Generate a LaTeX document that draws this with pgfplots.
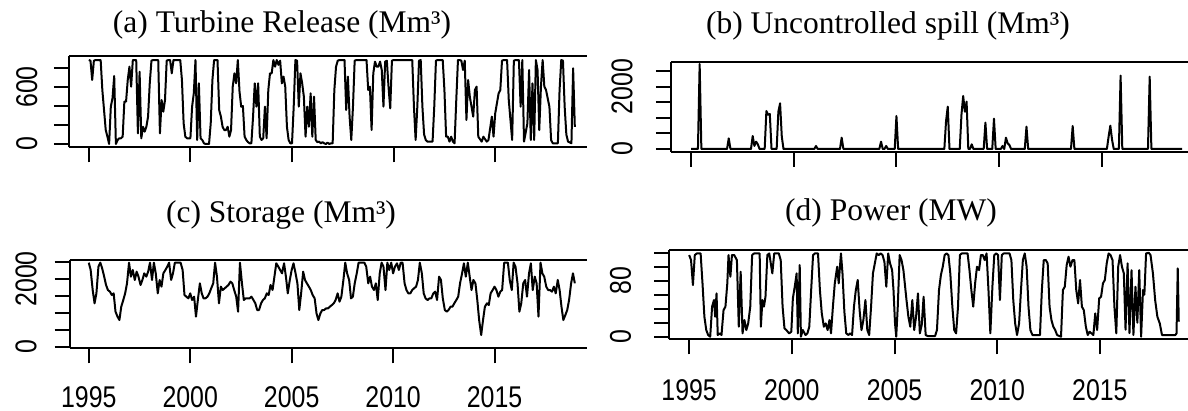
\documentclass[border=0pt]{standalone}
\usepackage{fontspec}
\setmainfont{Liberation Serif}
\newfontfamily\tickfont[FakeStretch=0.83]{Liberation Sans}
\newfontfamily\titlefont{Liberation Serif}
\usepackage{pgfplots}
\pgfplotsset{compat=1.18}
\pgfplotsset{rstyle/.style={
  scale only axis, enlargelimits=false, anchor=south west,
  every non boxed y axis/.style={},
  axis x line*=box, axis y line*=left,
  axis line style={line width=1pt, -},
  tick align=outside, xtick pos=left, ytick pos=left,
  major tick length=7.5pt,
  tick style={line width=1pt, black},
  ticklabel style={font=\tickfont\fontsize{15pt}{15pt}\selectfont, inner sep=0pt},
  xticklabel style={anchor=north},
  yticklabel style={rotate=90, anchor=south},
  xtick={0,60,120,180,240},
  clip=false,
}}
\begin{document}
\begin{tikzpicture}
\useasboundingbox (0,0) rectangle (594pt,205.5pt);
% (a) Turbine release
\begin{axis}[rstyle, at={(34.45pt,131.85pt)}, width=259.05pt, height=45.8pt,
  xmin=-11.75, xmax=294.2, ymin=-34.7, ymax=929.5,
  ytick={0,200,400,600,800}, yticklabels={0,,,600,}, yticklabel shift=8.1pt,
  xticklabels={,,,,}]
\addplot[black, line width=1pt, line join=round, mark=none] coordinates {
(0,884)(1,877)(2,674)(3,877)(4,884)(6,884)(7,884)(8,568)(10,147)(11,77)(12,0)(13,393)(14,481)(15,716)(16,0)(17,42)(18,60)(19,60)(20,77)(21,446)(22,446)(23,674)(24,814)(25,604)(26,884)(27,884)(28,884)(29,112)(30,761)(31,60)(32,182)(33,130)(34,182)(35,288)(36,639)(37,877)(38,884)(41,884)(42,112)(43,463)(44,340)(45,463)(46,877)(47,884)(48,884)(49,744)(50,884)(54,884)(55,674)(56,218)(57,77)(58,60)(60,60)(61,393)(62,533)(63,884)(64,42)(65,639)(66,60)(67,42)(68,7)(69,0)(71,0)(72,218)(73,674)(74,884)(76,884)(77,358)(78,288)(79,182)(80,147)(81,147)(82,182)(83,77)(84,147)(85,604)(86,744)(87,639)(88,884)(89,551)(90,393)(91,400)(92,77)(93,42)(94,20)(95,7)(96,7)(97,288)(98,639)(99,393)(100,639)(101,77)(102,42)(103,60)(104,393)(105,60)(106,568)(107,744)(108,744)(109,884)(110,814)(111,884)(112,833)(113,877)(114,639)(115,709)(116,604)(117,182)(118,42)(119,7)(120,7)(121,393)(122,884)(123,877)(124,393)(125,744)(126,639)(127,498)(128,77)(129,393)(130,182)(131,533)(132,77)(133,498)(134,42)(135,20)(136,25)(137,7)(138,20)(139,7)(140,0)(141,15)(142,0)(143,7)(144,7)(145,568)(146,814)(147,877)(148,884)(151,884)(152,358)(153,709)(154,288)(155,42)(156,393)(157,877)(158,884)(164,884)(165,568)(166,604)(167,147)(168,744)(169,867)(170,814)(171,814)(172,867)(173,779)(174,393)(175,867)(176,877)(177,600)(178,375)(179,877)(180,884)(191,884)(192,393)(193,42)(194,393)(195,877)(196,884)(197,393)(198,100)(199,42)(200,25)(203,25)(204,393)(205,877)(206,884)(209,884)(210,568)(211,77)(212,77)(213,25)(214,77)(215,25)(216,7)(217,463)(218,884)(219,884)(220,877)(221,779)(222,877)(223,253)(224,674)(225,498)(227,288)(228,568)(229,604)(230,77)(232,25)(233,77)(235,25)(236,42)(238,288)(239,77)(240,323)(242,533)(243,568)(244,877)(245,884)(247,884)(248,463)(250,42)(251,877)(252,884)(254,884)(255,393)(256,884)(257,25)(259,218)(260,779)(261,42)(262,639)(263,42)(264,884)(265,779)(266,147)(267,604)(268,884)(269,604)(270,568)(272,393)(273,42)(274,7)(277,7)(278,568)(279,884)(280,877)(281,393)(282,100)(283,25)(285,7)(286,797)(287,180)
};
\end{axis}
% (b) Uncontrolled spill
\begin{axis}[rstyle, at={(335.45pt,129.65pt)}, width=258.55pt, height=45pt,
  xmin=-11.8, xmax=290.4, ymin=-86.9, ymax=2809,
  ytick={0,500,1000,1500,2000,2500}, yticklabels={0,,,,2000,}, yticklabel shift=11.4pt,
  xticklabels={,,,,}]
\addplot[black, line width=1pt, line join=round, mark=none] coordinates {
(0,0)(4,0)(5,2736)(6,0)(21,0)(22,343)(23,0)(35,0)(36,418)(37,100)(38,236)(39,150)(40,0)(43,0)(44,1223)(45,1100)(46,1127)(47,0)(50,0)(51,1200)(52,1470)(53,400)(54,0)(72,0)(73,97)(74,0)(87,0)(88,365)(89,0)(110,0)(111,236)(112,0)(113,0)(114,97)(115,0)(119,0)(120,1062)(121,0)(148,0)(149,900)(150,1363)(151,0)(157,0)(158,1100)(159,1706)(160,1200)(161,1524)(162,0)(163,0)(164,150)(165,0)(171,0)(172,848)(173,0)(176,0)(177,976)(178,0)(181,0)(182,97)(183,0)(184,365)(185,182)(186,130)(187,0)(195,0)(196,719)(197,0)(222,0)(223,740)(224,0)(243,0)(244,400)(245,751)(246,300)(247,0)(250,0)(251,2361)(252,0)(267,0)(268,2328)(269,0)(287,0)
};
\end{axis}
% (c) Storage
\begin{axis}[rstyle, at={(34.85pt,31.35pt)}, width=258.65pt, height=44.15pt,
  xmin=-11.3, xmax=294.7, ymin=-47.2, ymax=2559,
  ytick={0,500,1000,1500,2000,2500}, yticklabels={0,,,,2000,}, yticklabel shift=8.8pt,
  xticklabels={1995,2000,2005,2010,2015}, xticklabel shift=11.3pt]
\addplot[black, line width=1pt, line join=round, mark=none] coordinates {
(0,2480)(1.1,2264)(2.3,1673)(3.4,1280)(4.5,1575)(5.7,2362)(6.8,2480)(7.9,2313)(9.1,2067)(10.2,1821)(11.3,1673)(12.5,1624)(13.6,1526)(14.7,1575)(15.8,1034)(17.0,886)(18.1,787)(19.2,1181)(20.4,1378)(21.5,1575)(22.6,1870)(23.8,2480)(24.9,2067)(26.0,2264)(27.2,1969)(28.3,2215)(29.4,2067)(30.6,1821)(31.7,1969)(32.8,2165)(34.0,2067)(35.1,2215)(36.2,2480)(37.4,1969)(38.5,2480)(39.6,2165)(40.8,1575)(41.9,1969)(43.0,1772)(44.1,2165)(45.3,2264)(46.4,2362)(47.5,2480)(48.7,1969)(49.8,2165)(50.9,2480)(52.1,2480)(53.2,2480)(54.3,2480)(55.5,2264)(56.6,1526)(57.7,1476)(58.9,1427)(60.0,1575)(61.1,1378)(62.3,1476)(63.4,886)(64.5,1378)(65.7,1870)(66.8,1575)(67.9,1427)(69.0,1427)(70.2,1476)(71.3,1575)(72.4,1723)(73.6,1870)(74.7,2480)(75.8,2067)(77.0,1280)(78.1,1772)(79.2,1673)(80.4,1723)(81.5,1772)(82.6,1821)(83.8,1919)(84.9,1870)(86.0,1673)(87.2,1476)(88.3,1034)(89.4,2480)(90.6,1870)(91.7,1378)(92.8,1427)(94.0,1427)(95.1,1427)(96.2,1476)(97.4,1378)(98.5,1280)(99.6,1083)(100.7,1083)(101.9,1280)(103.0,1378)(104.1,1427)(105.3,1575)(106.4,1526)(107.5,1821)(108.7,1673)(109.8,2067)(110.9,2461)(112.1,2362)(113.2,2264)(114.3,2165)(115.5,2461)(116.6,2067)(117.7,1575)(118.9,1969)(120.0,2264)(121.1,2461)(122.3,2165)(123.4,1870)(124.5,1083)(125.6,1575)(126.8,2215)(127.9,1969)(129.0,1870)(130.2,1772)(131.3,1673)(132.4,1526)(133.6,1427)(134.7,984)(135.8,787)(137.0,984)(138.1,1083)(139.2,1083)(140.4,1132)(141.5,1132)(142.6,1181)(143.8,1230)(144.9,1280)(146.0,1378)(147.2,1575)(148.3,1329)(149.4,1476)(150.6,1969)(151.7,2480)(152.8,2165)(154.0,1969)(155.1,1427)(156.2,1476)(157.3,1870)(158.5,2165)(159.6,2480)(160.7,2480)(161.9,2480)(163.0,2480)(164.1,2362)(165.3,1870)(166.4,2067)(167.5,1772)(168.7,1673)(169.8,1870)(170.9,1378)(172.1,2165)(173.2,2480)(174.3,2362)(175.5,1673)(176.6,2480)(177.7,2264)(178.9,2480)(180.0,2165)(181.1,2362)(182.3,2461)(183.4,2264)(184.5,2480)(185.6,2480)(186.8,1870)(187.9,1673)(189.0,1575)(190.2,1575)(191.3,1673)(192.4,1723)(193.6,1772)(194.7,1969)(195.8,2480)(197.0,2165)(198.1,1575)(199.2,1427)(200.4,1378)(201.5,1427)(202.6,1427)(203.8,1575)(204.9,1624)(206.0,1378)(207.2,2067)(208.3,1969)(209.4,1427)(210.6,1083)(211.7,1034)(212.8,1083)(214.0,1181)(215.1,1181)(216.2,1280)(217.4,1378)(218.5,1476)(219.6,1870)(220.8,2165)(221.9,2461)(223.0,2067)(224.2,2480)(225.3,2067)(226.4,1673)(227.5,1969)(228.7,1870)(229.8,1378)(230.9,787)(232.1,344)(233.2,787)(234.3,1181)(235.5,1280)(236.6,1230)(237.7,1575)(238.9,1673)(240.0,1772)(241.1,1673)(242.3,1476)(243.4,1624)(244.5,1673)(245.7,2480)(246.8,2480)(247.9,2480)(249.0,1969)(250.2,1673)(251.3,2480)(252.4,2362)(253.6,1870)(254.7,1034)(255.8,1280)(257.0,1870)(258.1,1969)(259.2,1476)(260.4,2165)(261.5,2461)(262.6,1673)(263.8,2067)(264.9,1870)(266.0,886)(267.2,2480)(268.3,2165)(269.4,2067)(270.6,1772)(271.7,1673)(272.8,1673)(274.0,1624)(275.1,1772)(276.2,1575)(277.4,1969)(278.5,1673)(279.6,1181)(280.7,787)(281.9,935)(283.0,1083)(284.1,1378)(285.3,1870)(286.4,2165)(287.5,1870)
};
\end{axis}
% (d) Power
\begin{axis}[rstyle, at={(334.65pt,35.85pt)}, width=259.35pt, height=44.65pt,
  xmin=-11.6, xmax=291.5, ymin=-3.7, ymax=123.9,
  ytick={0,20,40,60,80,100,120}, yticklabels={0,,,,80,,}, yticklabel shift=11.4pt,
  xticklabels={1995,2000,2005,2010,2015}, xticklabel shift=12.5pt]
\addplot[black, line width=1pt, line join=round, mark=none] coordinates {
(0,116.7)(1.1,109.5)(2.2,73.8)(3.3,116.7)(4.5,119)(6.7,119)(7.8,76.2)(8.9,28.6)(10.0,9.5)(11.1,2.4)(12.3,0)(13.4,42.9)(14.5,52.4)(15.2,28.6)(16.0,61.9)(16.7,2.4)(17.8,4.8)(18.9,2.4)(20.1,38.1)(21.2,42.9)(22.3,76.2)(23.0,116.7)(24.1,85.7)(25.0,116.7)(26.3,116.7)(27.9,109.5)(29.0,14.3)(30.1,92.9)(31.2,4.8)(32.3,23.8)(33.4,9.5)(34.5,19)(35.7,42.9)(36.8,116.7)(37.9,119)(41.2,119)(41.9,14.3)(42.8,52.4)(43.7,42.9)(44.6,57.1)(45.7,116.7)(46.8,119)(48.6,90.5)(49.7,119)(52.4,119)(53.5,109.5)(54.6,42.9)(55.7,11.9)(56.8,9.5)(58.4,4.8)(59.7,7.1)(60.6,54.8)(61.7,71.4)(62.8,90.5)(63.5,4.8)(64.6,102.4)(65.3,0)(66.4,9.5)(68.0,2.4)(69.1,4.8)(70.2,14.3)(71.3,66.7)(72.4,116.7)(73.5,119)(75.3,119)(76.4,66.7)(77.5,33.3)(78.7,14.3)(79.8,19)(80.9,9.5)(82.0,23.8)(82.9,4.8)(84.0,42.9)(85.1,76.2)(86.5,100)(87.4,76.2)(88.7,119)(89.6,90.5)(90.7,35.7)(91.8,4.8)(93.1,2.4)(94.0,4.8)(95.2,2.4)(96.3,42.9)(97.4,66.7)(98.5,81)(99.6,38.1)(100.7,9.5)(101.8,23.8)(103.0,52.4)(104.1,9.5)(105.2,2.4)(106.3,42.9)(107.4,90.5)(108.5,104.8)(109.6,119)(110.8,116.7)(111.9,119)(113.0,116.7)(114.1,107)(115.2,71.4)(116.3,119)(117.4,104.8)(118.6,95.2)(119.4,66.7)(120.3,19)(121.0,0)(121.9,42.9)(123.0,116.7)(124.1,109.5)(125.2,95.2)(126.4,66.7)(127.0,52.4)(128.1,28.6)(129.2,14.3)(130.4,52.4)(131.5,9.5)(132.6,28.6)(133.7,61.9)(134.8,4.8)(135.9,16.7)(137.0,57.1)(138.2,2.4)(139.3,1)(143.7,1)(144.8,9.5)(146.0,66.7)(147.1,88.1)(148.2,100)(149.3,116.7)(150.4,119)(151.5,116.7)(152.6,90.5)(153.8,42.9)(154.9,9.5)(156.0,4.8)(157.1,42.9)(158.2,116.7)(159.3,119)(162.7,119)(163.8,95.2)(164.9,66.7)(166.0,42.9)(167.1,76.2)(168.2,100)(169.4,95.2)(170.5,116.7)(171.6,116.7)(172.7,109.5)(173.8,119)(174.9,66.7)(176.0,4.8)(177.2,71.4)(178.3,116.7)(179.4,119)(180.5,116.7)(181.6,52.4)(182.7,116.7)(183.8,119)(187.2,119)(188.3,109.5)(189.4,52.4)(190.5,19)(191.6,2.4)(192.8,19)(193.9,66.7)(195.0,109.5)(196.1,119)(197.2,100)(198.3,42.9)(199.4,9.5)(200.6,2.4)(205.0,2.4)(206.1,66.7)(207.2,109.5)(208.4,109.5)(209.5,104.8)(210.6,42.9)(211.7,23.8)(212.8,14.3)(213.9,9.5)(215.0,2.4)(217.3,0)(218.4,66.7)(219.5,71.4)(220.6,102.4)(221.7,114.3)(222.8,100)(224.0,109.5)(225.1,109.5)(226.2,66.7)(227.3,47.6)(228.4,81)(229.5,42.9)(230.6,38.1)(231.8,14.3)(232.9,2.4)(234.0,7.1)(235.1,4.8)(236.2,2.4)(237.3,33.3)(238.4,9.5)(239.6,54.8)(240.7,57.1)(241.8,76.2)(242.9,81)(244.0,104.8)(245.1,119)(246.2,116.7)(247.4,109.5)(248.5,42.9)(249.6,4.8)(250.7,100)(251.8,116.7)(252.9,100)(254.0,90.5)(255.0,10)(256.2,104.8)(257.3,5)(258.5,95)(259.6,2.4)(260.8,71.4)(261.9,20)(263.0,95.2)(264.1,0)(265.2,66.7)(266.0,60)(267.0,119)(268.5,120)(269.6,116.7)(271.0,90.5)(272.3,52.4)(273.6,28.6)(275.0,19)(276.3,2.4)(284.1,2.4)(284.8,4.8)(285.5,97.6)(286.1,21.4)
};
\end{axis}
% titles
\node[font=\titlefont\fontsize{15.75pt}{16pt}\selectfont, anchor=base] at (141pt,189pt) {(a) Turbine Release (Mm³)};
\node[font=\titlefont\fontsize{15.75pt}{16pt}\selectfont, anchor=base] at (444pt,188.5pt) {(b) Uncontrolled spill (Mm³)};
\node[font=\titlefont\fontsize{15.75pt}{16pt}\selectfont, anchor=base] at (140.5pt,94.2pt) {(c) Storage (Mm³)};
\node[font=\titlefont\fontsize{15.75pt}{16pt}\selectfont, anchor=base] at (445.5pt,95pt) {(d) Power (MW)};
\end{tikzpicture}
\end{document}
